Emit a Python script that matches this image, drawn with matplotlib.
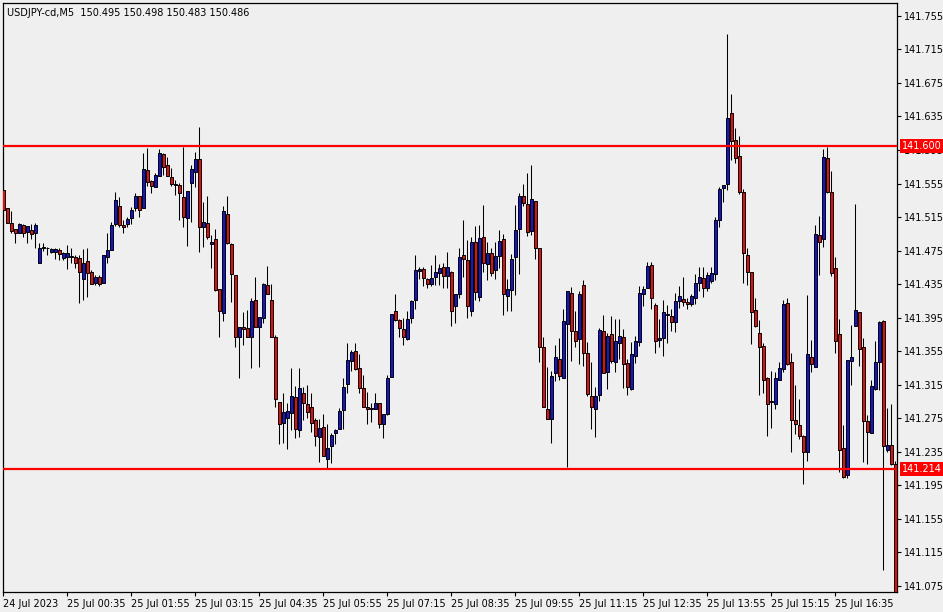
import matplotlib
matplotlib.use("Agg")
from matplotlib import pyplot as plt
from matplotlib import transforms

TITLE = "USDJPY-cd,M5  150.495 150.498 150.483 150.486"

# OHLC of the 5 minute bars (oldest first)
opens = [
    141.547, 141.526, 141.508, 141.501, 141.496, 141.505, 141.497, 141.500, 141.496, 141.460,
    141.478, 141.478, 141.473, 141.473, 141.476, 141.466, 141.467, 141.467, 141.467, 141.466,
    141.441, 141.462, 141.449, 141.436, 141.443, 141.436, 141.467, 141.476, 141.507, 141.528,
    141.505, 141.507, 141.514, 141.526, 141.540, 141.526, 141.571, 141.558, 141.551, 141.564,
    141.590, 141.577, 141.563, 141.554, 141.553, 141.539, 141.514, 141.556, 141.569, 141.584,
    141.503, 141.508, 141.483, 141.489, 141.429, 141.400, 141.519, 141.483, 141.446, 141.372,
    141.384, 141.383, 141.372, 141.416, 141.384, 141.394, 141.434, 141.416, 141.372, 141.294,
    141.269, 141.275, 141.281, 141.300, 141.261, 141.305, 141.292, 141.288, 141.273, 141.252,
    141.264, 141.226, 141.242, 141.257, 141.262, 141.285, 141.316, 141.343, 141.355, 141.335,
    141.311, 141.288, 141.287, 141.286, 141.293, 141.268, 141.280, 141.324, 141.403, 141.392,
    141.381, 141.369, 141.394, 141.416, 141.451, 141.453, 141.441, 141.435, 141.443, 141.448,
    141.455, 141.445, 141.449, 141.409, 141.423, 141.470, 141.464, 141.403, 141.485, 141.420,
    141.491, 141.459, 141.472, 141.452, 141.468, 141.489, 141.421, 141.428, 141.467, 141.501,
    141.540, 141.531, 141.498, 141.534, 141.478, 141.360, 141.286, 141.274, 141.329, 141.345,
    141.323, 141.387, 141.424, 141.379, 141.369, 141.434, 141.353, 141.301, 141.286, 141.303,
    141.379, 141.330, 141.375, 141.342, 141.365, 141.372, 141.341, 141.310, 141.349, 141.366,
    141.423, 141.430, 141.458, 141.410, 141.368, 141.371, 141.398, 141.397, 141.390, 141.415,
    141.417, 141.414, 141.411, 141.418, 141.436, 141.442, 141.430, 141.439, 141.447, 141.511,
    141.550, 141.554, 141.639, 141.607, 141.588, 141.545, 141.470, 141.449, 141.404, 141.376,
    141.361, 141.323, 141.294, 141.292, 141.320, 141.333, 141.412, 141.342, 141.273, 141.267,
    141.254, 141.234, 141.348, 141.336, 141.494, 141.489, 141.585, 141.545, 141.454, 141.375,
    141.239, 141.207, 141.343, 141.385, 141.402, 141.360, 141.271, 141.257, 141.310, 141.342,
    141.391, 141.237, 141.243, 141.220,
]
highs = [
    141.549, 141.526, 141.522, 141.501, 141.508, 141.507, 141.504, 141.507, 141.508, 141.484,
    141.484, 141.479, 141.478, 141.478, 141.478, 141.473, 141.481, 141.478, 141.470, 141.470,
    141.477, 141.478, 141.452, 141.446, 141.446, 141.470, 141.496, 141.509, 141.545, 141.539,
    141.511, 141.515, 141.527, 141.544, 141.540, 141.591, 141.597, 141.559, 141.568, 141.596,
    141.591, 141.587, 141.573, 141.559, 141.556, 141.599, 141.546, 141.577, 141.593, 141.622,
    141.533, 141.540, 141.494, 141.501, 141.429, 141.528, 141.540, 141.484, 141.446, 141.384,
    141.402, 141.404, 141.418, 141.443, 141.396, 141.436, 141.456, 141.435, 141.374, 141.294,
    141.305, 141.293, 141.335, 141.313, 141.335, 141.312, 141.314, 141.305, 141.275, 141.274,
    141.280, 141.268, 141.257, 141.262, 141.287, 141.323, 141.365, 141.356, 141.365, 141.351,
    141.326, 141.306, 141.293, 141.305, 141.293, 141.280, 141.326, 141.399, 141.423, 141.393,
    141.394, 141.403, 141.416, 141.470, 141.455, 141.455, 141.442, 141.458, 141.470, 141.459,
    141.460, 141.473, 141.451, 141.423, 141.478, 141.511, 141.488, 141.491, 141.504, 141.505,
    141.529, 141.485, 141.478, 141.485, 141.500, 141.495, 141.441, 141.471, 141.529, 141.544,
    141.554, 141.568, 141.577, 141.534, 141.478, 141.372, 141.336, 141.331, 141.362, 141.371,
    141.405, 141.427, 141.431, 141.403, 141.427, 141.440, 141.366, 141.342, 141.312, 141.383,
    141.398, 141.376, 141.397, 141.393, 141.393, 141.381, 141.345, 141.366, 141.373, 141.433,
    141.433, 141.461, 141.461, 141.412, 141.393, 141.416, 141.410, 141.405, 141.424, 141.433,
    141.443, 141.418, 141.423, 141.447, 141.455, 141.455, 141.449, 141.455, 141.515, 141.551,
    141.553, 141.734, 141.662, 141.621, 141.612, 141.548, 141.478, 141.449, 141.418, 141.392,
    141.365, 141.324, 141.331, 141.330, 141.342, 141.416, 141.418, 141.353, 141.314, 141.298,
    141.255, 141.422, 141.368, 141.505, 141.516, 141.596, 141.599, 141.570, 141.467, 141.393,
    141.267, 141.344, 141.386, 141.531, 141.402, 141.371, 141.279, 141.320, 141.367, 141.391,
    141.392, 141.287, 141.292, 141.224,
]
lows = [
    141.522, 141.508, 141.496, 141.484, 141.496, 141.491, 141.484, 141.489, 141.478, 141.460,
    141.474, 141.470, 141.472, 141.465, 141.464, 141.464, 141.453, 141.460, 141.454, 141.412,
    141.416, 141.420, 141.435, 141.434, 141.433, 141.436, 141.460, 141.476, 141.504, 141.503,
    141.496, 141.503, 141.507, 141.522, 141.515, 141.526, 141.552, 141.544, 141.551, 141.564,
    141.565, 141.564, 141.552, 141.541, 141.511, 141.503, 141.480, 141.509, 141.551, 141.473,
    141.479, 141.489, 141.454, 141.427, 141.372, 141.391, 141.483, 141.414, 141.360, 141.323,
    141.362, 141.372, 141.335, 141.384, 141.336, 141.388, 141.423, 141.372, 141.288, 141.244,
    141.245, 141.238, 141.261, 141.251, 141.252, 141.273, 141.275, 141.258, 141.242, 141.223,
    141.230, 141.214, 141.221, 141.244, 141.262, 141.262, 141.305, 141.331, 141.332, 141.305,
    141.288, 141.268, 141.270, 141.286, 141.263, 141.251, 141.279, 141.324, 141.391, 141.372,
    141.362, 141.368, 141.388, 141.405, 141.441, 141.433, 141.430, 141.433, 141.434, 141.434,
    141.430, 141.430, 141.385, 141.388, 141.418, 141.443, 141.394, 141.397, 141.416, 141.415,
    141.449, 141.440, 141.445, 141.441, 141.454, 141.398, 141.403, 141.403, 141.422, 141.447,
    141.528, 141.492, 141.494, 141.465, 141.342, 141.288, 141.274, 141.245, 141.319, 141.320,
    141.323, 141.216, 141.343, 141.360, 141.339, 141.337, 141.301, 141.262, 141.252, 141.295,
    141.329, 141.310, 141.341, 141.330, 141.345, 141.311, 141.303, 141.308, 141.341, 141.361,
    141.409, 141.430, 141.405, 141.353, 141.360, 141.349, 141.365, 141.379, 141.378, 141.406,
    141.409, 141.405, 141.409, 141.411, 141.427, 141.420, 141.427, 141.436, 141.440, 141.503,
    141.533, 141.547, 141.583, 141.579, 141.542, 141.436, 141.434, 141.363, 141.384, 141.303,
    141.305, 141.254, 141.263, 141.286, 141.320, 141.330, 141.338, 141.234, 141.256, 141.250,
    141.196, 141.224, 141.330, 141.336, 141.446, 141.479, 141.544, 141.445, 141.353, 141.211,
    141.203, 141.203, 141.314, 141.385, 141.337, 141.222, 141.220, 141.257, 141.308, 141.308,
    141.094, 141.234, 141.219, 141.040,
]
closes = [
    141.523, 141.508, 141.498, 141.496, 141.507, 141.496, 141.504, 141.495, 141.505, 141.478,
    141.479, 141.478, 141.477, 141.477, 141.471, 141.472, 141.472, 141.468, 141.460, 141.449,
    141.460, 141.448, 141.435, 141.443, 141.435, 141.470, 141.476, 141.505, 141.535, 141.505,
    141.503, 141.513, 141.523, 141.540, 141.523, 141.572, 141.557, 141.552, 141.565, 141.591,
    141.575, 141.564, 141.554, 141.553, 141.544, 141.515, 141.546, 141.572, 141.584, 141.503,
    141.509, 141.491, 141.485, 141.428, 141.403, 141.522, 141.484, 141.447, 141.372, 141.384,
    141.381, 141.372, 141.415, 141.384, 141.396, 141.435, 141.423, 141.372, 141.298, 141.268,
    141.282, 141.283, 141.301, 141.262, 141.311, 141.293, 141.282, 141.269, 141.254, 141.263,
    141.230, 141.239, 141.255, 141.261, 141.283, 141.312, 141.344, 141.354, 141.333, 141.311,
    141.288, 141.286, 141.286, 141.293, 141.268, 141.280, 141.323, 141.399, 141.392, 141.383,
    141.372, 141.393, 141.415, 141.452, 141.453, 141.442, 141.435, 141.442, 141.449, 141.454,
    141.445, 141.455, 141.403, 141.423, 141.467, 141.465, 141.409, 141.485, 141.425, 141.490,
    141.460, 141.472, 141.448, 141.468, 141.486, 141.423, 141.429, 141.465, 141.500, 141.540,
    141.532, 141.497, 141.536, 141.478, 141.360, 141.288, 141.274, 141.325, 141.348, 141.325,
    141.391, 141.427, 141.379, 141.367, 141.423, 141.353, 141.304, 141.288, 141.301, 141.380,
    141.329, 141.373, 141.343, 141.367, 141.373, 141.339, 141.312, 141.351, 141.367, 141.424,
    141.429, 141.456, 141.418, 141.367, 141.371, 141.402, 141.399, 141.390, 141.415, 141.421,
    141.414, 141.411, 141.421, 141.436, 141.443, 141.430, 141.446, 141.448, 141.511, 141.548,
    141.553, 141.633, 141.606, 141.585, 141.545, 141.472, 141.449, 141.402, 141.385, 141.360,
    141.320, 141.292, 141.295, 141.323, 141.335, 141.411, 141.339, 141.273, 141.268, 141.254,
    141.234, 141.351, 141.339, 141.495, 141.485, 141.587, 141.545, 141.448, 141.367, 141.237,
    141.205, 141.344, 141.348, 141.404, 141.357, 141.271, 141.258, 141.313, 141.342, 141.390,
    141.242, 141.243, 141.220, 141.050,
]

# time axis labels (every 16 bars)
time_labels = [
    "24 Jul 2023", "25 Jul 00:35", "25 Jul 01:55", "25 Jul 03:15", "25 Jul 04:35",
    "25 Jul 05:55", "25 Jul 07:15", "25 Jul 08:35", "25 Jul 09:55", "25 Jul 11:15",
    "25 Jul 12:35", "25 Jul 13:55", "25 Jul 15:15", "25 Jul 16:35",
]
label_step = 16

# price axis
price_ticks = [141.755 - 0.04 * k for k in range(18)]
levels = [141.600, 141.214]

BG = "#efefef"
BULL = "#1414d2"
BEAR = "#e01010"


def main():
    fig = plt.figure(figsize=(9.43, 6.12), dpi=100, facecolor=BG)
    ax = fig.add_axes([3 / 943, 1 - 592 / 612, 894 / 943, 589 / 612])
    ax.set_facecolor(BG)

    n = len(opens)
    xs = list(range(n))

    # wicks
    ax.vlines(xs, lows, highs, color="black", linewidth=0.75, zorder=2)

    # bodies
    bottoms = [min(o, c) for o, c in zip(opens, closes)]
    heights = [abs(c - o) for o, c in zip(opens, closes)]
    colors = [BULL if c > o else BEAR for o, c in zip(opens, closes)]
    ax.bar(xs, heights, bottom=bottoms, width=0.62, color=colors,
           edgecolor="black", linewidth=0.7, zorder=3)

    # horizontal levels
    for lvl in levels:
        ax.axhline(lvl, color="#ff0000", linewidth=1.6, zorder=4)

    ax.set_xlim(-0.08, 223.43)
    ax.set_ylim(141.0673, 141.7705)

    # price axis on the right
    ax.yaxis.tick_right()
    ax.set_yticks(price_ticks)
    ax.set_yticklabels([f"{p:.3f}" for p in price_ticks])
    ax.tick_params(axis="y", direction="out", length=3, width=0.8, pad=2,
                   labelsize=7, colors="black")

    # time axis
    xticks = [label_step * k for k in range(len(time_labels))]
    ax.set_xticks(xticks)
    ax.set_xticklabels(time_labels, ha="left")
    ax.tick_params(axis="x", direction="out", length=3, width=0.8, pad=2,
                   labelsize=7, colors="black")

    for sp in ax.spines.values():
        sp.set_color("black")
        sp.set_linewidth(0.9)

    # price tags for the levels (they sit over the tick labels, as in the terminal)
    trans = transforms.blended_transform_factory(ax.transAxes, ax.transData)
    for lvl in levels:
        ax.text(1.006, lvl, f"{lvl:.3f}", transform=trans, ha="left", va="center",
                fontsize=7, color="white", zorder=10, clip_on=False,
                bbox=dict(boxstyle="square,pad=0.22", facecolor="#ff0000",
                          edgecolor="none"))

    ax.text(0.005, 0.992, TITLE, transform=ax.transAxes, ha="left", va="top",
            fontsize=7, color="black")

    fig.savefig("out.png", dpi=100, facecolor=BG)


if __name__ == '__main__':
    main()
